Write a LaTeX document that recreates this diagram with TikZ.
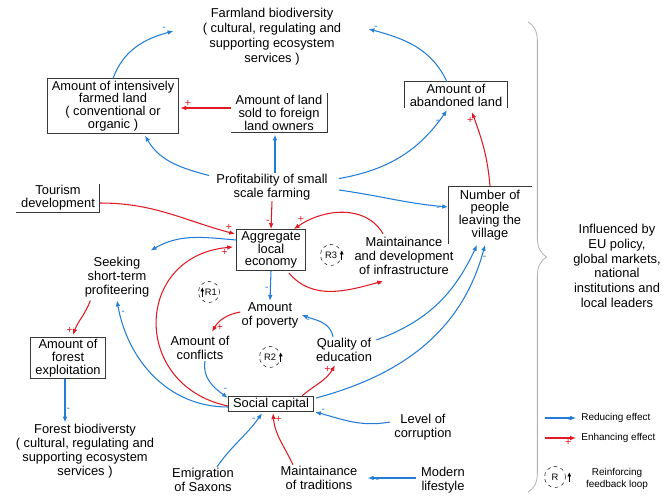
\documentclass[tikz,border=0pt]{standalone}
\usepackage{fontspec}
\setmainfont{Liberation Sans}
\usetikzlibrary{arrows.meta,calc,decorations.pathreplacing}
\definecolor{effblue}{RGB}{35,125,215}
\definecolor{effred}{RGB}{225,25,35}
\definecolor{boxgray}{RGB}{55,55,55}
\tikzset{
  lbl/.style={align=center, inner sep=1pt, font=\fontsize{11}{12}\selectfont},
  boxnode/.style={lbl, draw=boxgray, line width=0.8pt, inner xsep=4pt, inner ysep=1.5pt, font=\fontsize{11}{11}\selectfont},
  openbox/.style={lbl, inner xsep=4pt, inner ysep=1.5pt, font=\fontsize{11}{11}\selectfont},
  boxline/.style={draw=boxgray, line width=0.8pt},
  reduce/.style={color=effblue, line width=0.9pt, -{Latex[length=5pt,width=4pt]}},
  enhance/.style={color=effred, line width=0.9pt, -{Latex[length=5pt,width=4pt]}},
  sgn/.style={inner sep=1pt, font=\fontsize{9}{9}\selectfont},
  loopnode/.style={circle, draw, dashed, minimum size=18pt, inner sep=0pt, font=\fontsize{8}{8}\selectfont},
  looparr/.style={line width=1.1pt, -{Latex[length=3.5pt,width=3.5pt]}},
  legtxt/.style={align=center, inner sep=1pt, font=\fontsize{8.5}{10}\selectfont}
}
\begin{document}
\begin{tikzpicture}[x=0.03cm,y=-0.03cm]
\useasboundingbox (0,0) rectangle (671,500);

\node[lbl, font=\fontsize{11}{12.8}\selectfont] (farmbio) at (272,37) {Farmland biodiversity\\( cultural, regulating and\\supporting ecosystem\\services )};
\node[boxnode] (intensive) at (113,106) {Amount of intensively\\farmed land\\( conventional or\\organic )};
\node[openbox] (landsold) at (279,113) {Amount of land\\sold to foreign\\land owners};
\node[openbox] (abandoned) at (456,95) {Amount of\\abandoned land};
\node[lbl] (profit) at (272,187) {Profitability of small\\scale farming};
\node[openbox] (tourism) at (58,198) {Tourism\\development};
\node[boxnode] (aggregate) at (271,250) {Aggregate\\local\\economy};
\node[openbox, font=\fontsize{11}{10}\selectfont, minimum width=71pt, minimum height=49pt] (people) at (490,215) {Number of\\people\\leaving the\\village};
\node[lbl] (infra) at (404,256) {Maintainance\\and development\\of infrastructure};
\node[loopnode] (r3) at (331,255) {R3};
\node[lbl] (seeking) at (117,277) {Seeking\\short-term\\profiteering};
\node[loopnode] (r1) at (209,292) {\hspace{3pt}R1};
\node[lbl] (poverty) at (270,315) {Amount\\of poverty};
\node[lbl] (conflicts) at (200,348) {Amount of\\conflicts};
\node[loopnode] (r2) at (270,357) {R2};
\node[lbl] (quality) at (344,350) {Quality of\\education};
\node[boxnode] (forestexp) at (68,358) {Amount of\\forest\\exploitation};
\node[boxnode] (social) at (271,404) {Social capital};
\node[lbl] (forestbio) at (85,451) {Forest biodiversty\\( cultural, regulating and\\supporting ecosystem\\services )};
\node[lbl] (corruption) at (423,427) {Level of\\corruption};
\node[lbl] (emigration) at (203,480) {Emigration\\of Saxons};
\node[lbl] (traditions) at (319,478) {Maintainance\\of traditions};
\node[lbl] (modern) at (443,480) {Modern\\lifestyle};
\node[lbl, font=\fontsize{11}{12.5}\selectfont] (influence) at (617,266) {Influenced by\\EU policy,\\global markets,\\national\\institutions and\\local leaders};

\draw[boxline] (landsold.north east) -- (landsold.south east) -- (landsold.south west);
\draw[boxline] (tourism.north east) -- (tourism.south east) -- (tourism.south west);
\draw[boxline] (abandoned.south west) -- (abandoned.north west) -- (abandoned.north east) -- (abandoned.south east);
\draw[boxline] (people.south west) -- (people.north west) -- (people.north east);

\draw[looparr] ([shift={(3.5pt,-4pt)}]r1.west) -- ([shift={(3.5pt,4pt)}]r1.west);
\draw[looparr] ([shift={(0pt,-4pt)}]r2.east) -- ([shift={(0pt,4pt)}]r2.east);
\draw[looparr] ([shift={(0pt,-4pt)}]r3.east) -- ([shift={(0pt,4pt)}]r3.east);

\draw[reduce] (intensive.north) to[out=70,in=195] node[sgn,pos=0.93,above left]{-} ($(farmbio.west)+(-28,-6)$);
\draw[reduce] ($(abandoned.north)+(-9,0)$) to[out=115,in=-15] node[sgn,pos=0.93,above]{-} ($(farmbio.east)+(26,-8)$);
\draw[enhance] ($(landsold.west)+(0,-5)$) -- node[sgn,pos=0.85,above]{+} ($(intensive.east)+(1,2)$);
\draw[reduce] ($(profit.north)+(3,0)$) -- ($(landsold.south)+(-4,2)$);
\draw[reduce] ($(profit.north west)+(-6,3)$) to[out=165,in=-60] ($(intensive.south)+(32,2)$);
\draw[reduce] ($(profit.north east)+(10,6)$) to[out=10,in=-125] node[sgn,pos=0.93,below left]{-} ($(abandoned.south)+(-9,2)$);
\draw[reduce] ($(profit.east)+(10,3)$) to[out=-8,in=175] node[sgn,pos=0.92,below]{-} ($(people.west)+(0,-8)$);
\draw[enhance] (profit.south) -- node[sgn,pos=0.75,left]{-} (aggregate.north);
\draw[enhance] ($(tourism.east)+(0,5)$) to[out=0,in=165] node[sgn,pos=0.96,above]{+} ($(aggregate.west)+(-1,-16)$);
\draw[enhance] ($(infra.north)+(-21,-2)$) to[out=120,in=35] node[sgn,pos=0.92,above]{+} ($(aggregate.north east)+(-12,0)$);
\draw[enhance] ($(aggregate.south east)+(-17,2)$) to[out=-50,in=195] node[sgn,pos=0.97,below]{-} ($(infra.south)+(-21,5)$);
\draw[reduce] ($(aggregate.west)+(0,-10)$) to[out=175,in=30] ($(seeking.north east)+(0,-5)$);
\draw[enhance] ($(social.west)+(0,2)$) to[out=168,in=185,looseness=1.6] node[sgn,pos=0.97,below]{+} ($(aggregate.west)+(-3,-3)$);
\draw[reduce] (aggregate.south) -- node[sgn,pos=0.6,left]{-} (poverty.north);
\draw[enhance] ($(poverty.west)+(0,-3)$) to[out=190,in=60] node[sgn,pos=0.85,right]{+} ($(conflicts.north)+(12,-3)$);
\draw[reduce] ($(conflicts.south)+(5,0)$) to[out=-100,in=145] node[sgn,pos=0.85,above right]{-} ($(social.north west)+(0,2)$);
\draw[enhance] ($(social.north east)+(-12,0)$) to[out=40,in=-120] node[sgn,pos=0.9,left]{+} ($(quality.south)+(-9,2)$);
\draw[reduce] ($(quality.north)+(-11,0)$) to[out=100,in=-20] node[sgn,pos=0.85,below]{-} ($(poverty.east)+(2,0)$);
\draw[reduce] ($(quality.east)+(3,-10)$) to[out=20,in=-115] ($(people.south)+(-13,1)$);
\draw[reduce] ($(social.east)+(2,-6)$) to[out=15,in=-105] node[sgn,pos=0.95,right]{-} ($(people.south)+(-5,1)$);
\draw[reduce] ($(social.west)+(0,3)$) to[out=180,in=-80] node[sgn,pos=0.93,right]{-} ($(seeking.south)+(0,2)$);
\draw[enhance] ($(seeking.south west)+(7,2)$) to[out=-110,in=70] node[sgn,pos=0.9,left]{+} ($(forestexp.north)+(5,-2)$);
\draw[reduce] ($(forestexp.south)+(-3,0)$) -- node[sgn,pos=0.7,right]{-} ($(forestexp.south |- forestbio.north)+(-3,0)$);
\draw[reduce] ($(corruption.west)+(-3,-5)$) to[out=190,in=-15] node[sgn,pos=0.9,above]{-} ($(social.east)+(1,8)$);
\draw[reduce] ($(emigration.north)+(14,0)$) to[out=55,in=-125] node[sgn,pos=0.9,left]{-} ($(social.south)+(-9,1)$);
\draw[enhance] ($(traditions.north)+(-26,0)$) to[out=115,in=-85] node[sgn,pos=0.9,right]{+} ($(social.south)+(2,1)$);
\draw[reduce] ($(modern.west)+(-4,-2)$) -- node[sgn,pos=0.8,below]{-} ($(traditions.east)+(9,0)$);
\draw[enhance] (people.north) to[out=95,in=-70] node[sgn,pos=0.9,left]{+} ($(abandoned.south)+(16,4)$);

\coordinate (bracetop) at (528,22);
\coordinate (bracebot) at (528,492);
\draw[gray!60, line width=0.7pt, decorate, decoration={brace, amplitude=16pt}] (bracetop) -- (bracebot);

\coordinate (redfrom) at (545,418);
\coordinate (redto) at (576,418);
\draw[reduce] (redfrom) -- node[sgn,pos=0.8,below]{-} (redto);
\node[legtxt, anchor=west] (redtxt) at (580,418) {Reducing effect};
\coordinate (enhfrom) at (545,438);
\coordinate (enhto) at (576,438);
\draw[enhance] (enhfrom) -- node[sgn,pos=0.75,below]{+} (enhto);
\node[legtxt, anchor=west] (enhtxt) at (580,438) {Enhancing effect};
\node[loopnode] (rlegend) at (555,477) {R};
\draw[looparr] ([shift={(3pt,-4pt)}]rlegend.east) -- ([shift={(3pt,4pt)}]rlegend.east);
\node[legtxt] (rtxt) at (617,479) {Reinforcing\\feedback loop};
\end{tikzpicture}
\end{document}
